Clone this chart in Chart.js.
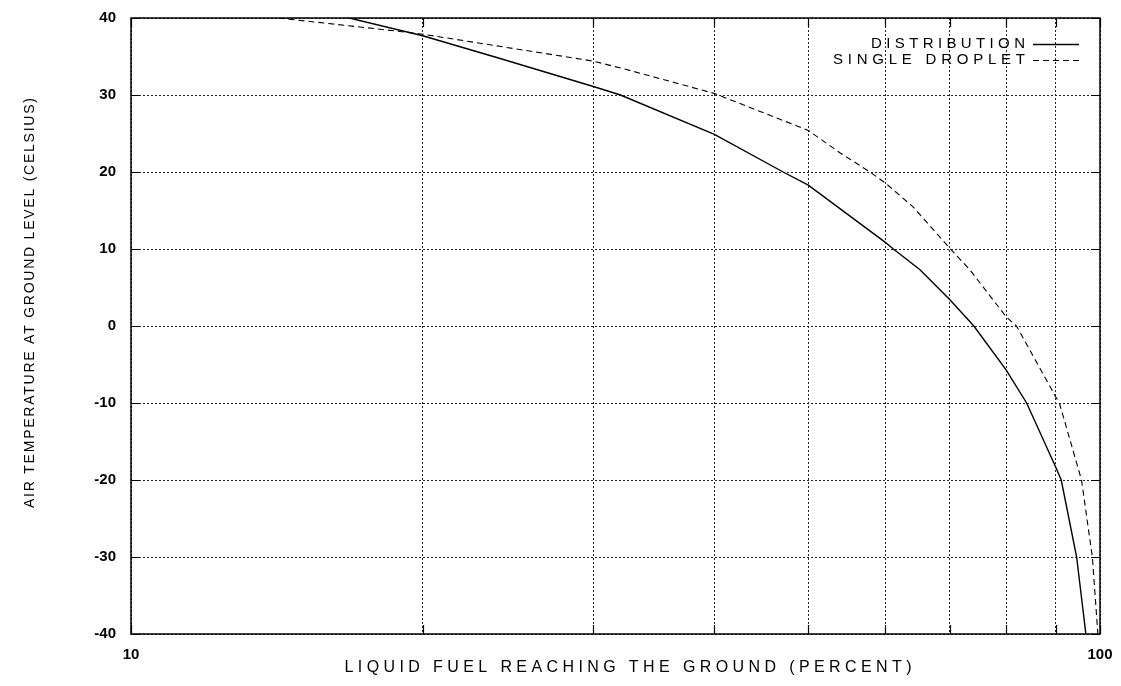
<!DOCTYPE html>
<html>
<head>
<meta charset="utf-8">
<script src="https://cdn.jsdelivr.net/npm/chart.js@4.4.1/dist/chart.umd.min.js"></script>
<style>
  html, body { margin: 0; padding: 0; background: #fff; }
  #wrap { width: 1121px; height: 686px; }
</style>
</head>
<body>
<div id="wrap"><canvas id="grafico" width="1121" height="686"></canvas></div>
<script>
// curva "distribution" (linha cheia)
const distX = [16.8, 20, 23.8, 30, 32, 40, 47.1, 50, 60, 61.2, 65.2, 70, 74.1, 80, 84, 90, 91.2, 94.6, 96.7]
const distY = [40, 37.7, 34.9, 31.1, 30, 24.9, 20, 18.3, 10.9, 10, 7.3, 3.4, 0, -5.7, -10, -18.3, -20, -30, -40]

// curva "single droplet" (tracejada)
const dropX = [14.2, 18.8, 20, 30, 32.7, 40, 50, 53.9, 57.9, 60, 64.1, 70.1, 73.4, 80, 82, 90, 90.8, 95.7, 98.2, 99.5]
const dropY = [40, 38.3, 37.9, 34.4, 33.2, 30.2, 25.4, 22.5, 20, 18.6, 15.5, 10, 7.3, 1.2, 0, -9.2, -10, -20, -30, -40]

const nomes = ['DISTRIBUTION', 'SINGLE DROPLET']
const xGrade = [10, 20, 30, 40, 50, 60, 70, 80, 90, 100]
const xRotulos = [10, 100]
const yTicks = [-40, -30, -20, -10, 0, 10, 20, 30, 40]
const tituloX = 'LIQUID FUEL REACHING THE GROUND (PERCENT)'
const tituloY = 'AIR TEMPERATURE AT GROUND LEVEL (CELSIUS)'

const FAMILIA = '"Liberation Sans", Arial, Helvetica, sans-serif'

function pontos(xs, ys) {
    return xs.map((x, i) => ({ x: x, y: ys[i] }))
}

// texto com espaçamento entre letras até ocupar a largura pedida
function textoEspacado(ctx, texto, x, y, largura, fonte, alinhar) {
    ctx.font = fonte
    ctx.letterSpacing = '0px'
    const base = ctx.measureText(texto).width
    const esp = (largura - base) / (texto.length - 1)
    ctx.letterSpacing = esp + 'px'
    let x0 = x
    if (alinhar === 'right') x0 = x - largura
    if (alinhar === 'center') x0 = x - largura / 2
    ctx.textAlign = 'left'
    ctx.textBaseline = 'middle'
    ctx.fillText(texto, x0, y)
    ctx.letterSpacing = '0px'
}

const moldura = {
    id: 'moldura',
    afterDraw(chart) {
        const ctx = chart.ctx
        const a = chart.chartArea
        const sx = chart.scales.x
        const sy = chart.scales.y

        ctx.save()
        ctx.strokeStyle = '#000'
        ctx.lineWidth = 1.5
        ctx.strokeRect(a.left, a.top, a.right - a.left, a.bottom - a.top)

        // marcas para dentro, como no gnuplot
        ctx.lineWidth = 1.2
        ctx.beginPath()
        yTicks.forEach(v => {
            const py = Math.round(sy.getPixelForValue(v)) + 0.5
            ctx.moveTo(a.left, py); ctx.lineTo(a.left + 9, py)
            ctx.moveTo(a.right - 9, py); ctx.lineTo(a.right, py)
        })
        xGrade.forEach(v => {
            const px = Math.round(sx.getPixelForValue(v)) + 0.5
            ctx.moveTo(px, a.bottom); ctx.lineTo(px, a.bottom - 9)
            ctx.moveTo(px, a.top); ctx.lineTo(px, a.top + 9)
        })
        ctx.stroke()

        ctx.fillStyle = '#000'
        // legenda
        const ds = chart.data.datasets
        const legY = [44, 60]
        ds.forEach((d, i) => {
            textoEspacado(ctx, d.label, 1025, legY[i], i === 0 ? 154 : 192, '15px ' + FAMILIA, 'right')
            ctx.beginPath()
            ctx.lineWidth = d.borderWidth
            ctx.setLineDash(d.borderDash || [])
            ctx.moveTo(1033, legY[i] + 0.5)
            ctx.lineTo(1079, legY[i] + 0.5)
            ctx.stroke()
            ctx.setLineDash([])
        })

        // títulos dos eixos
        textoEspacado(ctx, tituloX, 628, 668, 567, '16px ' + FAMILIA, 'center')
        ctx.translate(30, 303)
        ctx.rotate(-Math.PI / 2)
        textoEspacado(ctx, tituloY, 0, 0, 410, '14px ' + FAMILIA, 'center')
        ctx.restore()
    }
}

const fonteTick = { family: FAMILIA, size: 15, weight: 'bold' }

const grafico = new Chart(document.getElementById('grafico'), {
    type: 'scatter',
    data: {
        datasets: [{
            label: nomes[0],
            data: pontos(distX, distY),
            showLine: true,
            borderColor: '#000',
            borderWidth: 1.4,
            pointRadius: 0,
            tension: 0
        }, {
            label: nomes[1],
            data: pontos(dropX, dropY),
            showLine: true,
            borderColor: '#000',
            borderWidth: 1.1,
            borderDash: [6, 4],
            pointRadius: 0,
            tension: 0
        }]
    },
    options: {
        responsive: false,
        animation: false,
        devicePixelRatio: 1,
        layout: { padding: { top: 18, right: 21, left: 0, bottom: 0 } },
        plugins: {
            legend: { display: false },
            tooltip: { enabled: false }
        },
        scales: {
            x: {
                type: 'logarithmic',
                min: 10,
                max: 100,
                afterBuildTicks: s => { s.ticks = xGrade.map(v => ({ value: v })) },
                afterFit: s => {
                    s.height = 52
                    s.paddingLeft = 0
                    s.paddingRight = 0
                },
                ticks: {
                    autoSkip: false,
                    maxRotation: 0,
                    padding: 12,
                    color: '#000',
                    font: fonteTick,
                    callback: v => xRotulos.includes(v) ? String(v) : ''
                },
                grid: { color: '#222', lineWidth: 1, drawTicks: false },
                border: { display: false, dash: [2, 2] }
            },
            y: {
                min: -40,
                max: 40,
                afterBuildTicks: s => { s.ticks = yTicks.map(v => ({ value: v })) },
                afterFit: s => {
                    s.width = 131
                    s.paddingTop = 0
                    s.paddingBottom = 0
                },
                ticks: {
                    padding: 15,
                    color: '#000',
                    font: fonteTick
                },
                grid: { color: '#222', lineWidth: 1, drawTicks: false },
                border: { display: false, dash: [2, 2] }
            }
        }
    },
    plugins: [moldura]
})
</script>
</body>
</html>
